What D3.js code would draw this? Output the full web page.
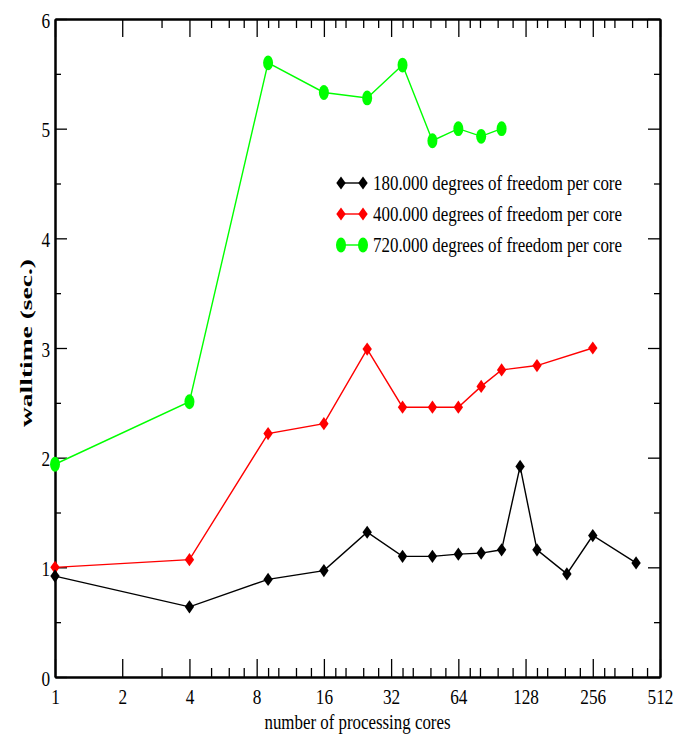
<!DOCTYPE html>
<html>
<head>
<meta charset="utf-8">
<script src="https://cdn.jsdelivr.net/npm/d3@7"></script>
</head>
<body style="margin:0;background:#fff">
<svg id="chart" width="677" height="739"></svg>
<script>
// walltime per step, three problem sizes
var cores180 = [1,4,9,16,25,36,49,64,81,100,121,144,196,256,400]
var wall180 = [0.92,0.64,0.89,0.97,1.32,1.10,1.10,1.12,1.13,1.16,1.92,1.16,0.94,1.29,1.04]
var cores400 = [1,4,9,16,25,36,49,64,81,100,144,256]
var wall400 = [1.00,1.07,2.22,2.31,2.99,2.46,2.46,2.46,2.65,2.80,2.84,3.00]
var cores720 = [1,4,9,16,25,36,49,64,81,100]
var wall720 = [1.94,2.51,5.60,5.33,5.28,5.58,4.89,5.00,4.93,5.00]
var legendLabels = ['180.000 degrees of freedom per core','400.000 degrees of freedom per core','720.000 degrees of freedom per core']
var xTicks = [1,2,4,8,16,32,64,128,256,512]
var yTicks = [0,1,2,3,4,5,6]

var chart = {}
chart.left = 55
chart.right = 660
chart.top = 19
chart.bottom = 677
chart.squeeze = 0.82
chart.font = '"Liberation Serif"'

var svg = d3.select('#chart')

var x = d3.scaleLog().base(2)
	.domain([1,512])
	.range([chart.left,chart.right]),
y = d3.scaleLinear()
	.domain([0,6])
	.range([chart.bottom,chart.top]);

// minor ticks inside each octave, only where integer
var xMinor = []
xTicks.slice(0,-1).forEach(function(p){
	[1.125,1.25,1.5,1.75].forEach(function(f){
		var v = p*f
		if (v === Math.round(v)) xMinor.push(v)
	})
})
var yMinor = d3.range(0.5,6,1)

function styleAxis(g) {
	g.select('.domain').attr('stroke','#000').attr('stroke-width',2)
	g.selectAll('.tick line').attr('stroke','#000').attr('stroke-width',1.3)
}

// minor ticks first
svg.append('g')
	.attr('transform','translate(0,'+chart.bottom+')')
	.call(d3.axisBottom(x).tickValues(xMinor).tickSize(-9).tickSizeOuter(0).tickFormat(''))
	.call(styleAxis)
svg.append('g')
	.attr('transform','translate(0,'+chart.top+')')
	.call(d3.axisTop(x).tickValues(xMinor).tickSize(-9).tickSizeOuter(0).tickFormat(''))
	.call(styleAxis)
svg.append('g')
	.attr('transform','translate('+chart.left+',0)')
	.call(d3.axisLeft(y).tickValues(yMinor).tickSize(-6).tickSizeOuter(0).tickFormat(''))
	.call(styleAxis)
svg.append('g')
	.attr('transform','translate('+chart.right+',0)')
	.call(d3.axisRight(y).tickValues(yMinor).tickSize(-6).tickSizeOuter(0).tickFormat(''))
	.call(styleAxis)

// major ticks
var bottomAxis = svg.append('g')
	.attr('transform','translate(0,'+chart.bottom+')')
	.call(d3.axisBottom(x).tickValues(xTicks).tickSize(-18).tickSizeOuter(0).tickPadding(10).tickFormat(d3.format('d')))
	.call(styleAxis)
bottomAxis.selectAll('.tick text')
	.attr('fill','#000')
	.attr('y',0)
	.attr('dy',0)
	.attr('transform','translate(0,27) scale('+chart.squeeze+',1)')
	.style('font-family',chart.font)
	.style('font-size','21px')

svg.append('g')
	.attr('transform','translate(0,'+chart.top+')')
	.call(d3.axisTop(x).tickValues(xTicks).tickSize(-18).tickSizeOuter(0).tickFormat(''))
	.call(styleAxis)

var leftAxis = svg.append('g')
	.attr('transform','translate('+chart.left+',0)')
	.call(d3.axisLeft(y).tickValues(yTicks).tickSize(-12).tickSizeOuter(0).tickFormat(d3.format('d')))
	.call(styleAxis)
leftAxis.selectAll('.tick text')
	.attr('fill','#000')
	.attr('x',0)
	.attr('dy',0)
	.attr('transform','translate(-5,8) scale('+chart.squeeze+',1)')
	.style('font-family',chart.font)
	.style('font-size','21px')

svg.append('g')
	.attr('transform','translate('+chart.right+',0)')
	.call(d3.axisRight(y).tickValues(yTicks).tickSize(-12).tickSizeOuter(0).tickFormat(''))
	.call(styleAxis)

// axis titles
svg.append('text')
	.attr('x',(chart.left+chart.right)/2)
	.attr('y',729)
	.attr('text-anchor','middle')
	.attr('textLength',186)
	.attr('lengthAdjust','spacingAndGlyphs')
	.style('font-family',chart.font)
	.style('font-size','20px')
	.text('number of processing cores')

svg.append('text')
	.attr('transform','translate(32,'+((chart.top+chart.bottom)/2-5)+') rotate(-90) scale(1,'+chart.squeeze+')')
	.attr('text-anchor','middle')
	.attr('textLength',168)
	.attr('lengthAdjust','spacingAndGlyphs')
	.style('font-family',chart.font)
	.style('font-size','21px')
	.style('font-weight','bold')
	.text('walltime (sec.)')

// symbols
var diamond = 'M0,-6.6L4.7,0L0,6.6L-4.7,0Z'
function drawSymbol(g, kind, color) {
	if (kind === 'circle') {
		g.append('ellipse').attr('rx',5).attr('ry',7.4).attr('fill',color)
	} else {
		g.append('path').attr('d',diamond).attr('fill',color)
	}
}

var series = [
	{cores:cores720, wall:wall720, color:'#00ff00', kind:'circle'},
	{cores:cores400, wall:wall400, color:'#ff0000', kind:'diamond'},
	{cores:cores180, wall:wall180, color:'#000000', kind:'diamond'}
]

var line = d3.line()
	.x(function(d){ return x(d[0]) })
	.y(function(d){ return y(d[1]) })

series.forEach(function(s){
	var pts = s.cores.map(function(c,i){ return [c, s.wall[i]] })
	svg.append('path')
		.datum(pts)
		.attr('d',line)
		.attr('fill','none')
		.attr('stroke',s.color)
		.attr('stroke-width',1.4)
	pts.forEach(function(p){
		var g = svg.append('g').attr('transform','translate('+x(p[0])+','+y(p[1])+')')
		drawSymbol(g, s.kind, s.color)
	})
})

// legend
var legendSeries = [series[2],series[1],series[0]]
legendSeries.forEach(function(s,i){
	var base = 190 + i*31
	var g = svg.append('g')
	g.append('line')
		.attr('x1',341).attr('x2',363)
		.attr('y1',base-7).attr('y2',base-7)
		.attr('stroke',s.color).attr('stroke-width',1.4)
	drawSymbol(g.append('g').attr('transform','translate(341,'+(base-7)+')'), s.kind, s.color)
	drawSymbol(g.append('g').attr('transform','translate(363,'+(base-7)+')'), s.kind, s.color)
	g.append('text')
		.attr('x',373)
		.attr('y',base)
		.attr('textLength',249)
		.attr('lengthAdjust','spacingAndGlyphs')
		.style('font-family',chart.font)
		.style('font-size','22px')
		.text(legendLabels[i])
})
</script>
</body>
</html>
